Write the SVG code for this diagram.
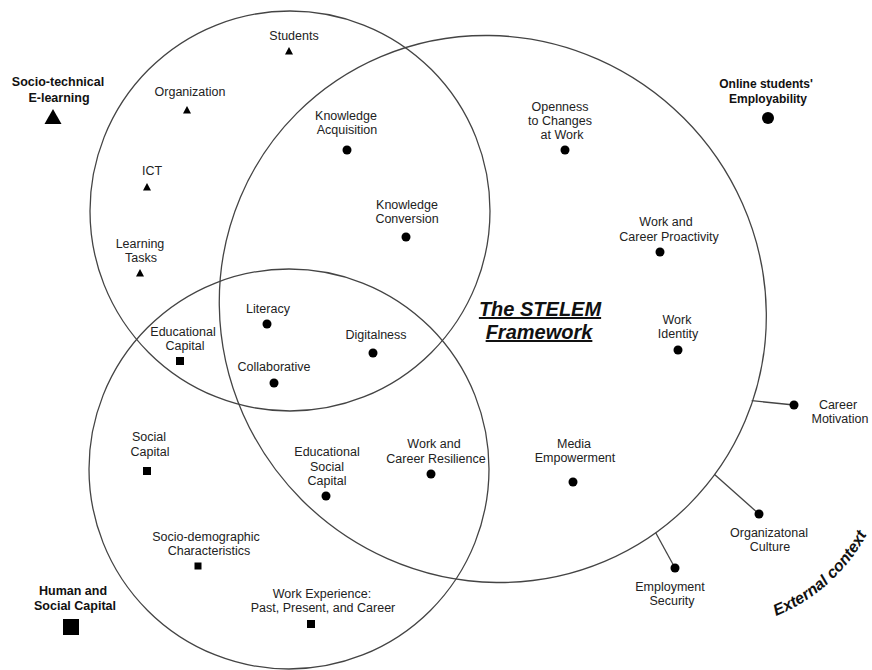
<svg xmlns="http://www.w3.org/2000/svg" xmlns:xlink="http://www.w3.org/1999/xlink" width="872" height="670" viewBox="0 0 872 670">
<style>
.lbl{font-family:"Liberation Sans",Arial,sans-serif;font-size:12.5px;fill:#222;text-anchor:middle}
.b{font-weight:bold;fill:#111}
.title{font-family:"Liberation Sans",Arial,sans-serif;font-size:20px;font-weight:bold;font-style:italic;fill:#111;text-anchor:middle;text-decoration:underline}
.ext{font-family:"Liberation Sans",Arial,sans-serif;font-size:16px;font-weight:bold;font-style:italic;fill:#111}
.circ{fill:none;stroke:#444;stroke-width:1.3}
.conn{stroke:#444;stroke-width:1.3;fill:none}
.mk{fill:#000}
</style>
<defs>
<path id="tri" d="M0,-4 L4,3.5 L-4,3.5 Z"/>
<rect id="sq" x="-4" y="-4" width="8" height="8"/>
<circle id="dot" r="4.5"/>
<path id="extArc" d="M 776 616 A 180 180 0 0 0 871.6 525.1"/>
</defs>
<rect width="872" height="670" fill="#fff"/>
<g id="sets">
<circle class="circ" cx="290" cy="211" r="200"/>
<ellipse class="circ" cx="492.8" cy="309" rx="277" ry="270" transform="rotate(45 492.8 309)"/>
<circle class="circ" cx="289" cy="469" r="200"/>
</g>
<g id="connectors">
<line class="conn" x1="751.7" y1="400.7" x2="794" y2="405"/>
<line class="conn" x1="714.3" y1="474.3" x2="759" y2="514"/>
<line class="conn" x1="655.7" y1="532.7" x2="675" y2="568"/>
</g>
<g id="socio-technical">
<text class="lbl b" x="58" y="86">Socio-technical</text>
<text class="lbl b" x="59" y="102">E-learning</text>
<path class="mk" d="M53,109 L61.5,124 L44.5,124 Z"/>
</g>
<g id="employability">
<text class="lbl b" x="766" y="88" style="font-size:12px">Online students'</text>
<text class="lbl b" x="768" y="103" style="font-size:12px">Employability</text>
<circle class="mk" cx="768" cy="118" r="6"/>
</g>
<g id="human-social">
<text class="lbl b" x="73" y="595">Human and</text>
<text class="lbl b" x="75" y="610">Social Capital</text>
<rect class="mk" x="63" y="619" width="16" height="16"/>
</g>
<g id="students"><text class="lbl" x="294" y="40">Students</text><use href="#tri" x="289" y="51"/></g>
<g id="organization"><text class="lbl" x="190" y="96">Organization</text><use href="#tri" x="187" y="110"/></g>
<g id="ict"><text class="lbl" x="152" y="175">ICT</text><use href="#tri" x="147" y="187"/></g>
<g id="learning-tasks"><text class="lbl" x="140" y="248">Learning</text><text class="lbl" x="141" y="262">Tasks</text><use href="#tri" x="140" y="273"/></g>
<g id="knowledge-acquisition"><text class="lbl" x="346" y="120">Knowledge</text><text class="lbl" x="347" y="134">Acquisition</text><use href="#dot" x="347" y="150"/></g>
<g id="knowledge-conversion"><text class="lbl" x="407" y="209">Knowledge</text><text class="lbl" x="407" y="223">Conversion</text><use href="#dot" x="406" y="237"/></g>
<g id="openness"><text class="lbl" x="560" y="111">Openness</text><text class="lbl" x="560" y="125">to Changes</text><text class="lbl" x="562" y="139">at Work</text><use href="#dot" x="565" y="150"/></g>
<g id="proactivity"><text class="lbl" x="666" y="226">Work and</text><text class="lbl" x="669" y="241">Career Proactivity</text><use href="#dot" x="660" y="252"/></g>
<g id="framework"><text class="title" x="540" y="316">The STELEM</text><text class="title" x="539" y="339">Framework</text></g>
<g id="work-identity"><text class="lbl" x="677" y="324">Work</text><text class="lbl" x="678" y="338">Identity</text><use href="#dot" x="678" y="350"/></g>
<g id="career-motivation"><use href="#dot" x="794" y="405"/><text class="lbl" x="838" y="409">Career</text><text class="lbl" x="840" y="423">Motivation</text></g>
<g id="educational-capital"><text class="lbl" x="183" y="336">Educational</text><text class="lbl" x="185" y="350">Capital</text><use href="#sq" x="180" y="361"/></g>
<g id="literacy"><text class="lbl" x="268" y="313">Literacy</text><use href="#dot" x="267" y="324"/></g>
<g id="digitalness"><text class="lbl" x="376" y="339">Digitalness</text><use href="#dot" x="373" y="353"/></g>
<g id="collaborative"><text class="lbl" x="274" y="371">Collaborative</text><use href="#dot" x="274" y="383"/></g>
<g id="social-capital"><text class="lbl" x="149" y="441">Social</text><text class="lbl" x="150" y="456">Capital</text><use href="#sq" x="147" y="471"/></g>
<g id="educational-social-capital"><text class="lbl" x="327" y="456">Educational</text><text class="lbl" x="327" y="471">Social</text><text class="lbl" x="327" y="485">Capital</text><use href="#dot" x="326" y="496"/></g>
<g id="resilience"><text class="lbl" x="434" y="448">Work and</text><text class="lbl" x="436" y="463">Career Resilience</text><use href="#dot" x="431" y="474"/></g>
<g id="media"><text class="lbl" x="574" y="448">Media</text><text class="lbl" x="575" y="462">Empowerment</text><use href="#dot" x="573" y="482"/></g>
<g id="socio-demographic"><text class="lbl" x="206" y="541">Socio-demographic</text><text class="lbl" x="209" y="555">Characteristics</text><rect class="mk" x="194.5" y="562.5" width="7" height="7"/></g>
<g id="work-experience"><text class="lbl" x="322" y="598">Work Experience:</text><text class="lbl" x="323" y="612">Past, Present, and Career</text><use href="#sq" x="311" y="624"/></g>
<g id="org-culture"><use href="#dot" x="759" y="514"/><text class="lbl" x="769" y="537">Organizatonal</text><text class="lbl" x="770" y="551">Culture</text></g>
<g id="employment-security"><use href="#dot" x="675" y="568"/><text class="lbl" x="670" y="591">Employment</text><text class="lbl" x="672" y="605">Security</text></g>
<g id="external-context">
<text class="ext"><textPath href="#extArc">External</textPath></text>
<text class="ext"><textPath href="#extArc" startOffset="67.6">context</textPath></text>
</g>
</svg>
